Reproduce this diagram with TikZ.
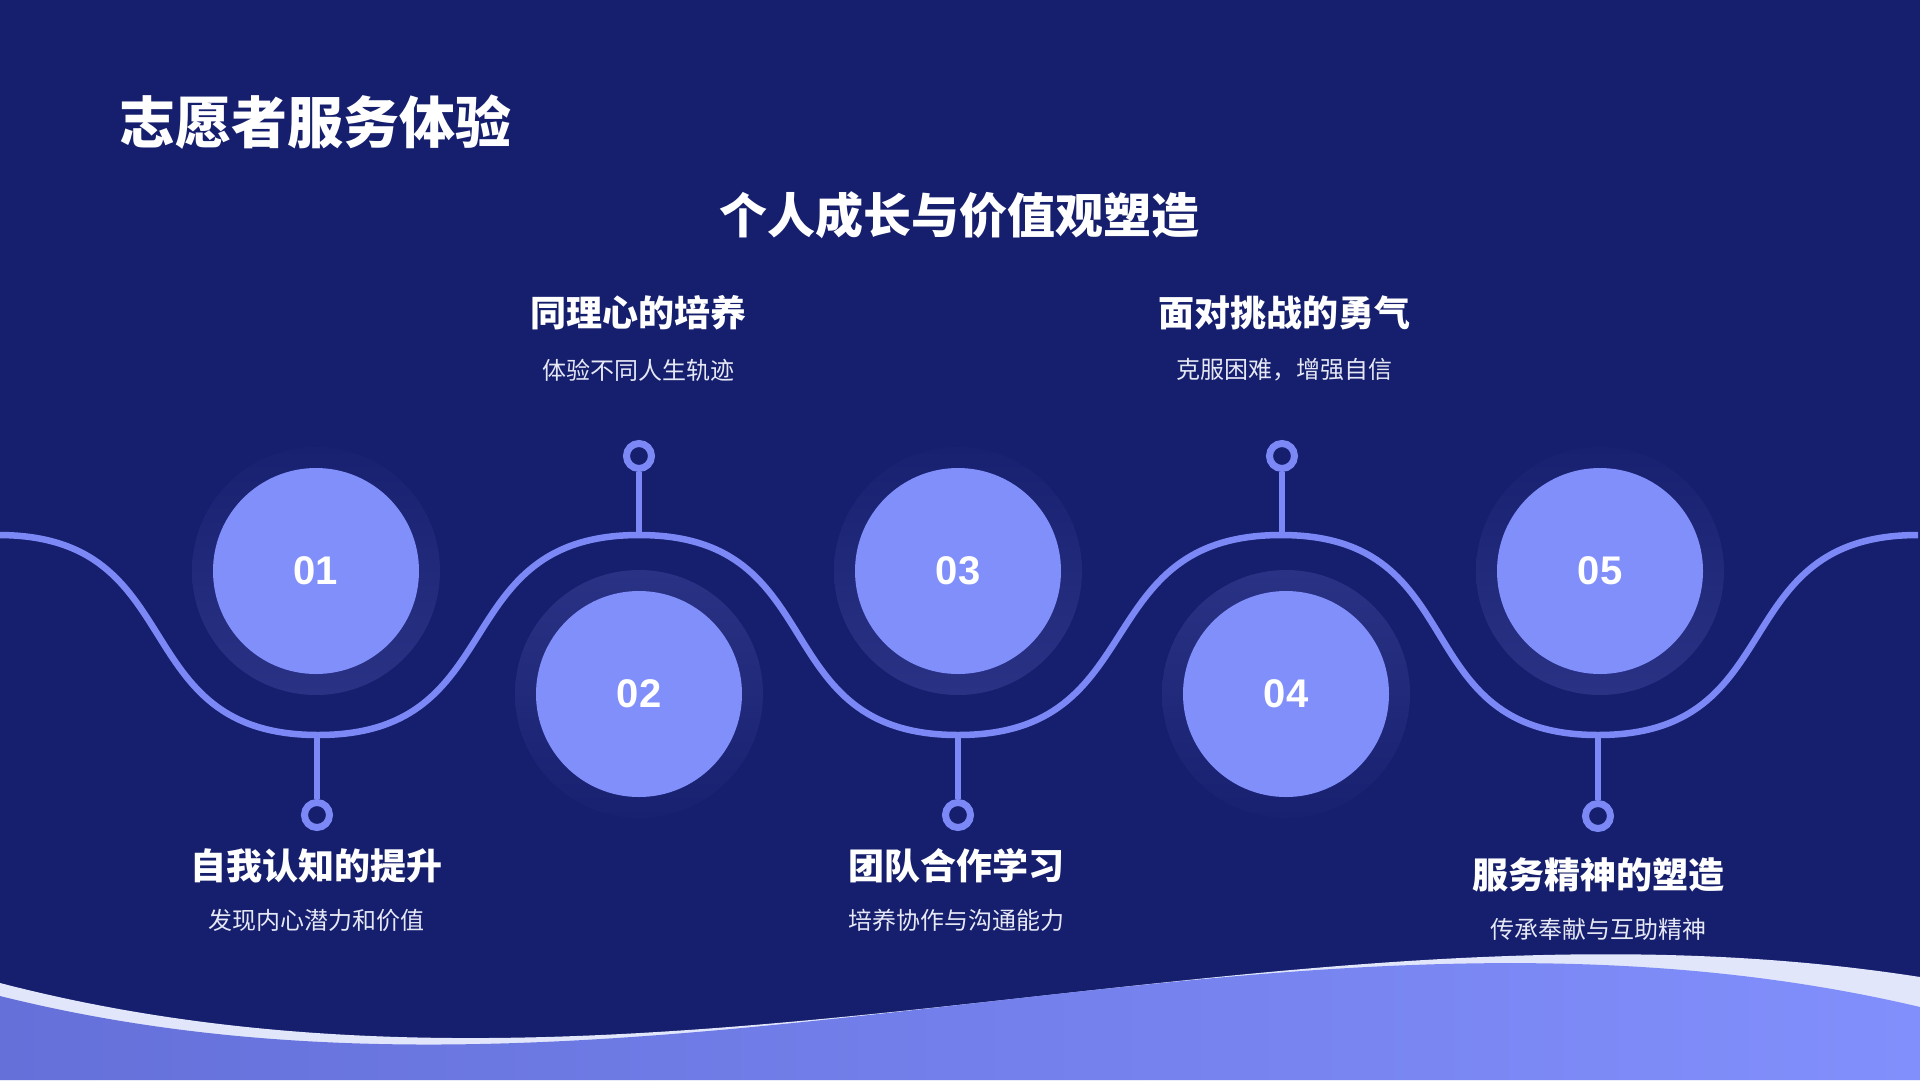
\documentclass[tikz,border=0pt]{standalone}
\usepackage{fontspec}
\newfontfamily\cjk{Noto Sans CJK SC}
\newfontfamily\numfont{Liberation Sans}
\definecolor{bg}{HTML}{161F6D}
\definecolor{halocol}{HTML}{2A3285}
\definecolor{halofade}{HTML}{182170}
\definecolor{cfill}{HTML}{818FFB}
\definecolor{linecol}{HTML}{7B88F5}
\definecolor{desccol}{HTML}{E6E8F6}
\definecolor{foamcol}{HTML}{E1E6FB}
\definecolor{seaL}{HTML}{6570D9}
\definecolor{seaR}{HTML}{818FFC}
\tikzset{
  halo/.style={circle, minimum size=248pt, inner sep=0pt},
  haloup/.style={halo, top color=halofade, bottom color=halocol},
  halodown/.style={halo, top color=halocol, bottom color=halofade},
  bubble/.style={circle, fill=cfill, minimum size=206pt, inner sep=0pt, text=white,
    font=\numfont\bfseries\fontsize{40}{42}\selectfont},
  pinring/.style={circle, draw=linecol, line width=7pt, minimum size=25pt, inner sep=0pt},
  waveline/.style={draw=linecol, line width=6.5pt},
  head/.style={font=\cjk\bfseries\fontsize{36}{40}\selectfont, text=white, inner sep=0pt},
  desc/.style={font=\cjk\fontsize{24}{28}\selectfont, text=desccol, inner sep=0pt},
}
\begin{document}
\begin{tikzpicture}[x=1pt,y=-1pt]
\useasboundingbox (0,0) rectangle (1920,1080);
\fill[bg] (0,0) rectangle (1920,1080);

% bottom decoration
\fill[foamcol] (0,983) .. controls (640,1149) and (1280,877) .. (1920,977)
  -- (1920,1080) -- (0,1080) -- cycle;
\shade[left color=seaL, right color=seaR] (0,996) .. controls (640,1156) and (1280,856) .. (1920,1007)
  -- (1920,1080) -- (0,1080) -- cycle;

% titles
\node[anchor=west, inner sep=0pt, text=white, font=\cjk\bfseries\fontsize{56}{60}\selectfont]
  (title) at (119,122) {志愿者服务体验};
\node[inner sep=0pt, text=white, font=\cjk\bfseries\fontsize{48}{52}\selectfont]
  (subtitle) at (959,215) {个人成长与价值观塑造};

% halos
\node[haloup]   (h1) at (316,571) {};
\node[halodown] (h2) at (639,694) {};
\node[haloup]   (h3) at (958,571) {};
\node[halodown] (h4) at (1286,694) {};
\node[haloup]   (h5) at (1600,571) {};

% wave extremes
\coordinate (w0) at (-2,535);
\coordinate (w1) at (318,735);
\coordinate (w2) at (639,535);
\coordinate (w3) at (958,735);
\coordinate (w4) at (1281,535);
\coordinate (w5) at (1598,735);
\coordinate (w6) at (1918,535);

\draw[waveline] (w0) .. controls +(195,0) and +(-195,0) .. (w1)
  .. controls +(195,0) and +(-195,0) .. (w2)
  .. controls +(195,0) and +(-195,0) .. (w3)
  .. controls +(195,0) and +(-195,0) .. (w4)
  .. controls +(195,0) and +(-195,0) .. (w5)
  .. controls +(195,0) and +(-195,0) .. (w6);

% pins
\node[pinring] (p1) at (317,815) {};
\node[pinring] (p2) at (639,456) {};
\node[pinring] (p3) at (958,815) {};
\node[pinring] (p4) at (1282,456) {};
\node[pinring] (p5) at (1598,816) {};
\draw[waveline] (317,735) -- (p1);
\draw[waveline] (w2) -- (p2);
\draw[waveline] (w3) -- (p3);
\draw[waveline] (1282,535) -- (p4);
\draw[waveline] (w5) -- (p5);

% bubbles
\node[bubble] (c1) at (316,571) {01};
\node[bubble] (c2) at (639,694) {02};
\node[bubble] (c3) at (958,571) {03};
\node[bubble] (c4) at (1286,694) {04};
\node[bubble] (c5) at (1600,571) {05};

% labels
\node[head] (t1) at (316,866) {自我认知的提升};
\node[desc] (d1) at (316,920) {发现内心潜力和价值};
\node[head] (t2) at (638,313) {同理心的培养};
\node[desc] (d2) at (638,370) {体验不同人生轨迹};
\node[head] (t3) at (956,866) {团队合作学习};
\node[desc] (d3) at (956,920) {培养协作与沟通能力};
\node[head] (t4) at (1284,313) {面对挑战的勇气};
\node[desc] (d4) at (1284,370) {克服困难，增强自信};
\node[head] (t5) at (1598,875) {服务精神的塑造};
\node[desc] (d5) at (1598,929) {传承奉献与互助精神};
\end{tikzpicture}
\end{document}
